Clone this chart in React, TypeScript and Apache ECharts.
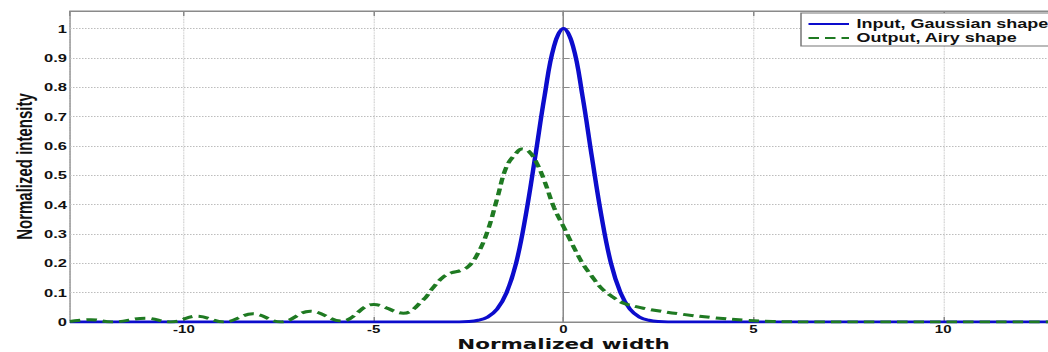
import React, { useEffect, useRef } from "react";
import * as echarts from "echarts";

// Input pulse (Gaussian)
const inputX = [-13, -3, -2.5, -2.25, -2, -1.75, -1.5, -1.25, -1, -0.75, -0.5, -0.25, 0, 0.25, 0.5, 0.75, 1, 1.25, 1.5, 1.75, 2, 2.25, 2.5, 3, 13];
const inputY = [0, 0, 0.002, 0.006, 0.017, 0.044, 0.1, 0.2, 0.36, 0.56, 0.77, 0.94, 1, 0.94, 0.77, 0.56, 0.36, 0.2, 0.1, 0.044, 0.017, 0.006, 0.002, 0, 0];

// Output pulse (Airy)
const outputX = [-13, -12.45, -11.9, -11.0, -10.35, -9.65, -8.95, -8.18, -7.45, -6.67, -5.85, -5.0, -4.22, -3.7, -3.45, -3.18, -2.95, -2.72, -2.5, -2.25, -2.0, -1.75, -1.5, -1.25, -1.1, -0.9, -0.7, -0.5, -0.25, 0, 0.25, 0.5, 0.75, 1.0, 1.3, 1.6, 2.0, 2.3, 3.15, 4.0, 4.8, 5.5, 6.5, 13];
const outputY = [0.002, 0.008, 0.0, 0.013, 0.0, 0.02, 0.0, 0.028, 0.0, 0.037, 0.003, 0.06, 0.03, 0.075, 0.115, 0.152, 0.168, 0.175, 0.19, 0.235, 0.31, 0.42, 0.53, 0.575, 0.59, 0.58, 0.54, 0.48, 0.39, 0.325, 0.26, 0.2, 0.155, 0.115, 0.085, 0.063, 0.05, 0.042, 0.026, 0.014, 0.006, 0.002, 0, 0];

const seriesNames = ["Input, Gaussian shape", "Output, Airy shape"];
const xAxisTitle = "Normalized width";
const yAxisTitle = "Normalized intensity";

const FONT = "'Liberation Sans', Arial, sans-serif";
const WIDE = "'DejaVu Sans', 'Liberation Sans', sans-serif";
const NARROW = "'Liberation Sans Narrow', 'Arial Narrow', 'Liberation Sans', sans-serif";
const AXIS_GRAY = "#8a8a8a";

export default function App() {
  const ref = useRef<HTMLDivElement>(null);
  useEffect(() => {
    document.body.style.margin = "0";
    const chart = echarts.init(ref.current!, null, { renderer: "svg" });
    const labelStyle = { fontFamily: FONT, fontWeight: "bold" as const, color: "#111" };
    chart.setOption({
      animation: false,
      backgroundColor: "#fff",
      grid: {
        left: 46.67,
        right: -5.7,
        top: 11,
        bottom: 30,
        outerBoundsMode: "none",
        containLabel: false,
        show: true,
        borderColor: AXIS_GRAY,
        borderWidth: 1,
        backgroundColor: "transparent",
      },
      legend: {
        data: seriesNames,
        orient: "vertical",
        left: 534,
        top: 13,
        padding: [4, 1, 1, 4],
        itemGap: 0,
        itemWidth: 27,
        itemHeight: 12,
        selectedMode: false,
        borderColor: "#777",
        borderWidth: 1,
        backgroundColor: "#fff",
        itemStyle: { opacity: 0 },
        textStyle: { fontFamily: FONT, fontWeight: "bold", fontSize: 12, color: "#111", lineHeight: 14 },
      },
      xAxis: [
        {
          type: "value",
          min: -13,
          max: 13,
          splitNumber: 5,
          position: "bottom",
          axisLine: { show: true, onZero: false, lineStyle: { color: AXIS_GRAY } },
          axisTick: { show: true, inside: true, length: 5, lineStyle: { color: AXIS_GRAY } },
          axisLabel: { ...labelStyle, fontSize: 10, showMinLabel: false, showMaxLabel: false, margin: 2 },
          splitLine: { show: true, lineStyle: { type: "dotted", color: "#c4c4c4", width: 0.8 } },
          name: xAxisTitle,
          nameLocation: "middle",
          nameGap: 13,
          nameMoveOverlap: false,
          nameTextStyle: { fontFamily: WIDE, fontWeight: "bold", fontSize: 14.3, lineHeight: 17, color: "#111" },
        },
        {
          type: "value",
          min: -13,
          max: 13,
          splitNumber: 5,
          position: "top",
          axisLine: { show: true, onZero: false, lineStyle: { color: AXIS_GRAY } },
          axisTick: { show: true, inside: true, length: 5, lineStyle: { color: AXIS_GRAY } },
          axisLabel: { show: false },
          splitLine: { show: false },
        },
      ],
      yAxis: {
        type: "value",
        min: 0,
        max: 1.06,
        interval: 0.1,
        axisLine: { show: true, lineStyle: { color: AXIS_GRAY } },
        axisTick: { show: true, inside: true, length: 4, lineStyle: { color: AXIS_GRAY } },
        axisLabel: { ...labelStyle, fontSize: 11, showMaxLabel: false, margin: 2 },
        splitLine: { show: true, lineStyle: { type: "dotted", color: "#bdbdbd", width: 1 } },
        name: yAxisTitle,
        nameLocation: "middle",
        nameGap: 23,
        nameMoveOverlap: false,
        nameTextStyle: { fontFamily: NARROW, fontWeight: "bold", fontSize: 15, color: "#111" },
      },
      series: [
        {
          name: seriesNames[0],
          type: "line",
          xAxisIndex: 0,
          data: inputX.map((x, i) => [x, inputY[i]]),
          symbol: "none",
          smooth: 0.4,
          lineStyle: { color: "#0c0ccc", width: 3 },
          itemStyle: { color: "#0c0ccc" },
        },
        {
          name: seriesNames[1],
          type: "line",
          xAxisIndex: 0,
          data: outputX.map((x, i) => [x, outputY[i]]),
          symbol: "none",
          smooth: 0.4,
          lineStyle: { color: "#1f7a22", width: 3, type: [7, 4] },
          itemStyle: { color: "#1f7a22" },
        },
      ],
    });
    return () => chart.dispose();
  }, []);
  return (
    <div style={{ width: 1048, height: 352, overflow: "hidden", position: "relative", background: "#fff" }}>
      <div ref={ref} style={{ width: 699, height: 352, transform: "scaleX(1.5)", transformOrigin: "0 0" }} />
    </div>
  );
}
